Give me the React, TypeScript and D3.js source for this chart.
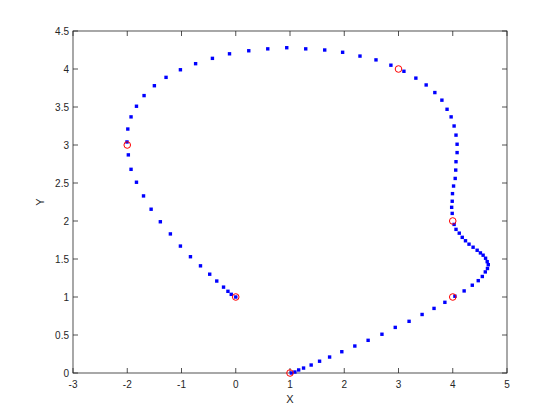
import React from "react";
import * as d3 from "d3";

const pathX = [0, -0.083, -0.144, -0.225, -0.35, -0.48, -0.65, -0.835, -1.02, -1.205, -1.39, -1.56, -1.7, -1.83, -1.93, -1.98, -2.005, -1.99, -1.93, -1.83, -1.69, -1.5, -1.285, -1.02, -0.74, -0.43, -0.115, 0.24, 0.59, 0.94, 1.29, 1.64, 1.97, 2.29, 2.585, 2.86, 3.1, 3.32, 3.51, 3.67, 3.8, 3.895, 3.97, 4.025, 4.06, 4.08, 4.08, 4.06, 4.055, 4.045, 4.015, 3.995, 3.99, 3.98, 3.99, 4.025, 4.06, 4.12, 4.175, 4.235, 4.3, 4.375, 4.45, 4.51, 4.56, 4.605, 4.635, 4.655, 4.64, 4.6, 4.545, 4.47, 4.36, 4.21, 4.04, 3.855, 3.655, 3.435, 3.195, 2.94, 2.695, 2.44, 2.195, 1.955, 1.73, 1.545, 1.39, 1.25, 1.16, 1.09, 1.025];
const pathY = [1, 1.035, 1.075, 1.13, 1.21, 1.3, 1.41, 1.53, 1.67, 1.83, 1.99, 2.155, 2.33, 2.51, 2.68, 2.87, 3.04, 3.21, 3.37, 3.51, 3.65, 3.78, 3.89, 3.99, 4.07, 4.14, 4.2, 4.24, 4.265, 4.28, 4.265, 4.25, 4.22, 4.17, 4.12, 4.05, 3.97, 3.88, 3.79, 3.69, 3.59, 3.47, 3.37, 3.25, 3.13, 3.01, 2.9, 2.78, 2.67, 2.56, 2.46, 2.36, 2.26, 2.18, 2.1, 1.955, 1.89, 1.84, 1.785, 1.74, 1.695, 1.655, 1.615, 1.58, 1.55, 1.51, 1.465, 1.425, 1.375, 1.33, 1.27, 1.215, 1.155, 1.08, 1.01, 0.93, 0.85, 0.77, 0.68, 0.6, 0.51, 0.43, 0.355, 0.28, 0.21, 0.155, 0.105, 0.065, 0.04, 0.013, 0];

const wayX = [0, -2, 3, 4, 4, 1];
const wayY = [1, 3, 4, 2, 1, 0];

const xTicks = [-3, -2, -1, 0, 1, 2, 3, 4, 5];
const yTicks = [0, 0.5, 1, 1.5, 2, 2.5, 3, 3.5, 4, 4.5];

export default function App() {
  const W = 560, H = 420;
  const L = 73, R = 507, T = 31, B = 373;
  const x = d3.scaleLinear().domain([-3, 5]).range([L, R]);
  const y = d3.scaleLinear().domain([0, 4.5]).range([B, T]);
  const font = "Helvetica, 'Liberation Sans', Arial, sans-serif";
  const tc = "#262626";
  const tl = 5;
  const s = 3.4;
  return (
    <svg width={W} height={H} style={{ position: "absolute", left: 0, top: 0, background: "#fff" }}>
      <rect x={0} y={0} width={W} height={H} fill="#fff" />
      {xTicks.map((t) => (
        <g key={"x" + t}>
          <line x1={x(t)} x2={x(t)} y1={B} y2={B - tl} stroke={tc} strokeWidth={0.8} />
          <line x1={x(t)} x2={x(t)} y1={T} y2={T + tl} stroke={tc} strokeWidth={0.8} />
          <text x={x(t)} y={B + 15} textAnchor="middle" fontSize={10} fontFamily={font} fill={tc}>{t}</text>
        </g>
      ))}
      {yTicks.map((t) => (
        <g key={"y" + t}>
          <line x1={L} x2={L + tl} y1={y(t)} y2={y(t)} stroke={tc} strokeWidth={0.8} />
          <line x1={R} x2={R - tl} y1={y(t)} y2={y(t)} stroke={tc} strokeWidth={0.8} />
          <text x={L - 4} y={y(t) + 3.5} textAnchor="end" fontSize={10} fontFamily={font} fill={tc}>{t}</text>
        </g>
      ))}
      <rect x={L} y={T} width={R - L} height={B - T} fill="none" stroke={tc} strokeWidth={0.8} />
      {pathX.map((v, i) => (
        <rect key={"p" + i} x={x(v) - s / 2} y={y(pathY[i]) - s / 2} width={s} height={s} fill="#0000ff" />
      ))}
      {wayX.map((v, i) => (
        <circle key={"w" + i} cx={x(v)} cy={y(wayY[i])} r={3.3} fill="none" stroke="#ff0000" strokeWidth={1} />
      ))}
      <text x={(L + R) / 2} y={B + 30} textAnchor="middle" fontSize={11} fontFamily={font} fill={tc}>X</text>
      <text transform={`translate(${L - 29},${(T + B) / 2}) rotate(-90)`} textAnchor="middle" fontSize={11} fontFamily={font} fill={tc}>Y</text>
    </svg>
  );
}
